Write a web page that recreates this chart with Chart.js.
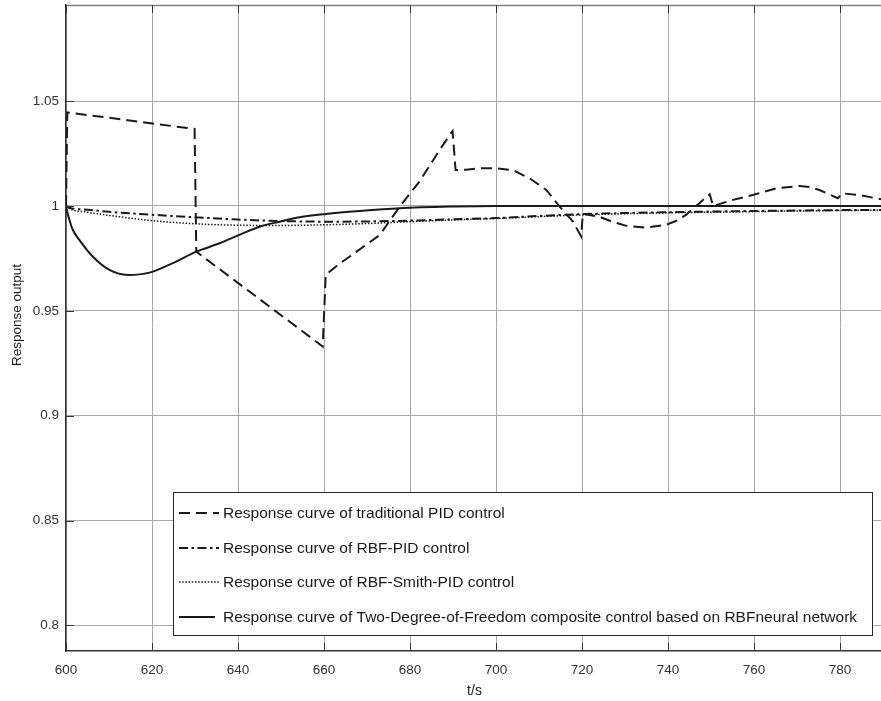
<!DOCTYPE html>
<html><head><meta charset="utf-8">
<script src="https://cdn.jsdelivr.net/npm/chart.js@4.4.1/dist/chart.umd.min.js"></script>
<style>
html,body{margin:0;padding:0;background:#fff;overflow:hidden;width:881px;height:701px}
#wrap{position:absolute;left:0;top:0;width:883px;height:701px}
</style>
</head><body><div id="wrap"><canvas id="c"></canvas></div>
<script>
// ---- data ----
const xTicks = [600,620,640,660,680,700,720,740,760,780];
const yTicks = [0.8,0.85,0.9,0.95,1,1.05];
const xMin = 600, xMax = 790, yMin = 0.7878, yMax = 1.0958;

const labels = [
  'Response curve of traditional PID control',
  'Response curve of RBF-PID control',
  'Response curve of RBF-Smith-PID control',
  'Response curve of Two-Degree-of-Freedom composite control based on RBFneural network'
];

const pidT = [600,600.3,629.9,630.3,659.7,660.4,663,666,669.5,673,677.6,682.2,686.9,689.9,690.6,693,696.5,700,703.9,707.8,711.7,714.8,717.9,719.8,720.2,724,727,730.3,734.9,739.6,742,744.2,747.3,749.7,750.5,755.1,759.7,765.2,770.6,773,775.2,779.5,780.5,784.6,790];
const pidV = [1.0,1.0446,1.0367,0.9782,0.933,0.9671,0.9715,0.9759,0.981,0.9862,0.9997,1.0116,1.0267,1.0357,1.0171,1.0173,1.018,1.0179,1.0171,1.0132,1.0076,0.9997,0.9925,0.9855,0.9962,0.9949,0.9925,0.9905,0.9897,0.991,0.993,0.9957,1.0013,1.0056,1.0,1.0029,1.0052,1.0084,1.0095,1.009,1.0076,1.0037,1.006,1.0052,1.003];

const rbfT = [600,601,605,610,620,630,640,650,660,670,680,690,700,710,720,730,740,750,760,770,780,790];
const rbfV = [1.0,0.999,0.9982,0.9972,0.9958,0.9946,0.9935,0.9928,0.9925,0.9926,0.993,0.9936,0.9942,0.9952,0.9961,0.9966,0.997,0.9973,0.9976,0.9978,0.998,0.9981];

const smithT = [600,601,605,610,620,630,640,650,660,670,680,690,700,710,720,730,740,750,760,770,780,790];
const smithV = [1.0,0.9985,0.997,0.9955,0.993,0.9915,0.9908,0.9907,0.991,0.9916,0.9925,0.9933,0.994,0.9949,0.9957,0.9963,0.9967,0.997,0.9973,0.9976,0.9978,0.998];

const tdofT = [600,600.3,600.8,601.5,603.1,606.2,610.1,614.4,619.4,624.8,630.3,635.7,640.3,645,649.7,654.3,660.5,668.3,677.6,690,700,720,790];
const tdofV = [1.0,0.997,0.9933,0.989,0.9838,0.9759,0.9695,0.9671,0.9682,0.9727,0.9782,0.9822,0.9862,0.9901,0.9925,0.9946,0.9962,0.9976,0.9989,0.9997,1.0,1.0,1.0];

const pts = (t, v) => t.map((x, i) => ({x, y: v[i]}));
const FONT = '"Liberation Sans", Arial, Helvetica, sans-serif';
const INK = '#1a1a1a';

const framePlugin = {
  id: 'frame',
  afterDatasetsDraw(chart) {
    const {ctx, chartArea: a, scales: {x, y}} = chart;
    ctx.save();
    // top box edge
    ctx.strokeStyle = '#7f7f7f'; ctx.lineWidth = 1.5;
    ctx.beginPath(); ctx.moveTo(a.left, a.top + 0.5); ctx.lineTo(a.right, a.top + 0.5); ctx.stroke();
    // inward tick marks
    ctx.strokeStyle = '#3a3a3a'; ctx.lineWidth = 1;
    ctx.beginPath();
    xTicks.forEach(v => {
      const px = Math.round(x.getPixelForValue(v)) + 0.5;
      ctx.moveTo(px, a.bottom); ctx.lineTo(px, a.bottom - 8);
      ctx.moveTo(px, a.top); ctx.lineTo(px, a.top + 8);
    });
    yTicks.forEach(v => {
      const py = Math.round(y.getPixelForValue(v)) + 0.5;
      ctx.moveTo(a.left, py); ctx.lineTo(a.left + 8, py);
    });
    ctx.stroke();
    // legend box
    const L = {x: 173.5, y: 492.5, w: 699, h: 143};
    ctx.fillStyle = '#fff'; ctx.fillRect(L.x, L.y, L.w, L.h);
    ctx.strokeStyle = '#262626'; ctx.lineWidth = 1; ctx.setLineDash([]);
    ctx.strokeRect(L.x, L.y, L.w, L.h);
    const rows = [513, 548, 582, 617];
    chart.data.datasets.forEach((ds, i) => {
      const yy = rows[i];
      ctx.strokeStyle = ds.borderColor; ctx.lineWidth = ds.borderWidth;
      ctx.setLineDash(ds.borderDash || []);
      ctx.beginPath(); ctx.moveTo(179, yy); ctx.lineTo(i === 3 ? 215 : 219, yy); ctx.stroke();
      ctx.setLineDash([]);
      ctx.fillStyle = INK; ctx.font = '15.5px ' + FONT;
      ctx.textBaseline = 'middle'; ctx.textAlign = 'left';
      ctx.fillText(ds.label, 223, yy + 1);
    });
    // y axis title
    ctx.save();
    ctx.translate(17.5, 315); ctx.rotate(-Math.PI / 2);
    ctx.fillStyle = INK; ctx.font = '13.5px ' + FONT;
    ctx.textAlign = 'center'; ctx.textBaseline = 'middle';
    ctx.fillText('Response output', 0, 0);
    ctx.restore();
    ctx.restore();
  }
};

new Chart(document.getElementById('c'), {
  type: 'line',
  data: {
    datasets: [
      {label: labels[0], data: pts(pidT, pidV), borderColor: INK, borderWidth: 2, borderDash: [11, 6], tension: 0},
      {label: labels[1], data: pts(rbfT, rbfV), borderColor: INK, borderWidth: 2, borderDash: [9, 3.5, 2.5, 3.5], cubicInterpolationMode: 'monotone'},
      {label: labels[2], data: pts(smithT, smithV), borderColor: INK, borderWidth: 1.5, borderDash: [1.5, 1.7], cubicInterpolationMode: 'monotone'},
      {label: labels[3], data: pts(tdofT, tdofV), borderColor: INK, borderWidth: 2, cubicInterpolationMode: 'monotone'}
    ]
  },
  options: {
    responsive: true, maintainAspectRatio: false, animation: false, devicePixelRatio: 1,
    layout: {padding: {top: 5, left: 0, right: 0, bottom: 0}},
    elements: {point: {radius: 0}, line: {fill: false}},
    plugins: {legend: {display: false}, tooltip: {enabled: false}},
    scales: {
      x: {
        type: 'linear', min: xMin, max: xMax,
        afterFit: s => { s.height = 50; s.paddingLeft = 0; s.paddingRight = 0; },
        afterBuildTicks: s => { s.ticks = xTicks.map(v => ({value: v})); },
        grid: {color: '#a8a8a8', lineWidth: 1, drawTicks: false},
        border: {color: '#333', width: 1.5},
        ticks: {padding: 11, color: '#333', font: {family: FONT, size: 13.5}, maxRotation: 0, autoSkip: false},
        title: {display: true, text: 't/s', color: INK, font: {family: FONT, size: 14}, padding: {top: 0, bottom: 1}}
      },
      y: {
        type: 'linear', min: yMin, max: yMax,
        afterFit: s => { s.width = 66; s.paddingTop = 0; s.paddingBottom = 0; },
        afterBuildTicks: s => { s.ticks = yTicks.map(v => ({value: v})); },
        grid: {color: '#a8a8a8', lineWidth: 1, drawTicks: false},
        border: {color: '#333', width: 1.5},
        ticks: {padding: 7, color: '#333', font: {family: FONT, size: 13.5}, callback: v => String(+v.toFixed(2))}
      }
    }
  },
  plugins: [framePlugin]
});
</script></body></html>
